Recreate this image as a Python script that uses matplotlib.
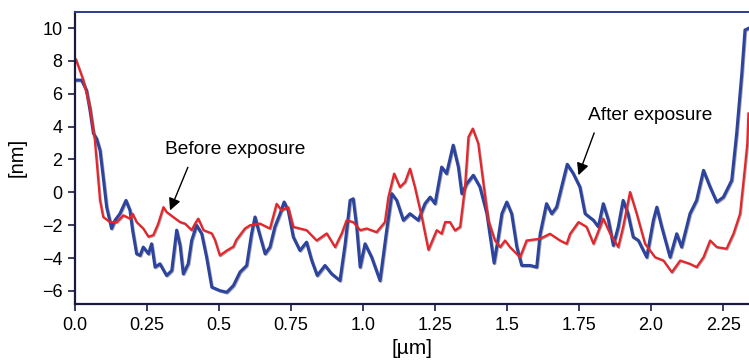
import numpy as np
import matplotlib
matplotlib.use('Agg')
import matplotlib.pyplot as plt
import matplotlib.patheffects as pe

plt.rcParams['font.family'] = ['Liberation Sans', 'DejaVu Sans']

# profile before exposure (red)
x_before = [0.003, 0.029, 0.052, 0.069, 0.087, 0.098, 0.122, 0.145, 0.168, 0.191,
            0.2, 0.214, 0.237, 0.255, 0.272, 0.289, 0.307, 0.318, 0.341, 0.365,
            0.382, 0.405, 0.417, 0.428, 0.446, 0.475, 0.486, 0.503, 0.527, 0.55,
            0.56, 0.59, 0.608, 0.642, 0.677, 0.70, 0.717, 0.74, 0.758, 0.804,
            0.839, 0.874, 0.903, 0.926, 0.943, 0.966, 0.99, 1.013, 1.047, 1.076,
            1.088, 1.108, 1.128, 1.146, 1.163, 1.18, 1.204, 1.227, 1.256, 1.273,
            1.285, 1.302, 1.319, 1.337, 1.354, 1.366, 1.381, 1.4, 1.418, 1.435,
            1.458, 1.476, 1.493, 1.51, 1.545, 1.568, 1.615, 1.649, 1.684, 1.707,
            1.719, 1.748, 1.776, 1.8, 1.834, 1.858, 1.886, 1.903, 1.927, 1.95,
            1.979, 2.014, 2.043, 2.072, 2.101, 2.135, 2.158, 2.182, 2.205, 2.228,
            2.262, 2.286, 2.309, 2.326, 2.334, 2.338]
y_before = [8.09, 6.83, 5.2, 3.17, -0.49, -1.5, -1.81, -1.81, -1.4, -1.6,
            -1.3, -1.81, -2.2, -2.7, -2.6, -1.9, -0.9, -1.2, -1.5, -1.81,
            -1.9, -2.3, -1.9, -1.6, -2.3, -2.5, -2.9, -3.84, -3.54, -3.3,
            -2.9, -2.2, -2.0, -1.9, -2.2, -0.7, -1.1, -0.9, -2.1, -2.3,
            -2.93, -2.5, -3.33, -2.5, -1.7, -1.81, -2.3, -2.2, -2.42, -1.81,
            -0.29, 1.14, 0.32, 0.63, 1.44, 0.32, -1.5, -3.5, -2.3, -2.52,
            -1.81, -1.81, -2.32, -2.1, 0.32, 3.37, 3.88, 2.97, 0.53, -1.7,
            -2.93, -3.33, -2.93, -3.33, -3.95, -2.93, -2.82, -2.52, -2.93, -3.13,
            -2.52, -1.81, -2.1, -3.13, -1.6, -2.52, -3.33, -2.1, 0.02, -1.3,
            -3.13, -3.95, -4.15, -4.86, -4.15, -4.35, -4.55, -3.95, -2.93, -3.33,
            -3.43, -2.52, -1.3, 1.54, 2.97, 4.8]

# profile after exposure (blue)
x_after = [0.003, 0.023, 0.04, 0.052, 0.064, 0.075, 0.087, 0.098, 0.11, 0.127,
           0.139, 0.156, 0.177, 0.191, 0.2, 0.214, 0.226, 0.237, 0.255, 0.266,
           0.278, 0.295, 0.318, 0.336, 0.353, 0.365, 0.376, 0.393, 0.405, 0.422,
           0.44, 0.457, 0.475, 0.503, 0.527, 0.55, 0.573, 0.596, 0.613, 0.625,
           0.637, 0.66, 0.677, 0.694, 0.712, 0.726, 0.74, 0.758, 0.781, 0.804,
           0.822, 0.841, 0.868, 0.891, 0.92, 0.938, 0.955, 0.966, 0.978, 0.99,
           1.007, 1.03, 1.059, 1.082, 1.1, 1.117, 1.14, 1.163, 1.192, 1.215,
           1.233, 1.25, 1.273, 1.29, 1.313, 1.331, 1.343, 1.36, 1.383, 1.406,
           1.43, 1.455, 1.47, 1.482, 1.499, 1.516, 1.534, 1.551, 1.58, 1.603,
           1.615, 1.637, 1.655, 1.672, 1.695, 1.709, 1.73, 1.753, 1.771, 1.8,
           1.817, 1.834, 1.852, 1.869, 1.886, 1.903, 1.92, 1.938, 1.956, 1.985,
           2.008, 2.02, 2.037, 2.066, 2.089, 2.106, 2.135, 2.158, 2.182, 2.205,
           2.228, 2.251, 2.28, 2.297, 2.315, 2.326, 2.338]
y_after = [6.83, 6.83, 6.2, 5.0, 3.58, 3.27, 2.56, 0.93, -0.9, -2.2,
           -1.7, -1.3, -0.49, -1.1, -2.3, -3.74, -3.84, -3.33, -3.74, -3.13,
           -4.55, -4.35, -5.06, -4.76, -2.3, -3.23, -4.96, -4.35, -2.93, -2.0,
           -2.52, -3.95, -5.77, -5.98, -6.08, -5.67, -4.85, -4.45, -2.52, -1.5,
           -2.3, -3.74, -3.33, -2.1, -1.3, -0.59, -1.1, -2.72, -3.54, -3.03,
           -4.15, -5.06, -4.45, -4.96, -5.37, -3.13, -0.49, -0.39, -2.1, -4.55,
           -3.13, -3.95, -5.37, -2.32, -0.08, -0.49, -1.7, -1.3, -1.7, -0.69,
           -0.29, -0.69, 1.54, 1.14, 2.87, 1.54, -0.08, 0.53, 1.04, 0.32,
           -1.3, -4.3, -2.7, -1.3, -0.59, -1.3, -3.33, -4.45, -4.45, -4.55,
           -2.52, -0.69, -1.3, -0.9, 0.73, 1.71, 1.14, 0.32, -1.3, -1.7,
           -2.1, -0.69, -1.7, -3.23, -2.1, -0.49, -1.3, -2.72, -2.93, -3.95,
           -1.7, -0.9, -2.1, -3.95, -2.52, -3.33, -1.3, -0.49, 1.34, 0.32,
           -0.59, -0.29, 0.73, 3.58, 7.24, 9.88, 9.98]

xticks = [0, 0.25, 0.5, 0.75, 1.0, 1.25, 1.5, 1.75, 2.0, 2.25]
xticklabels = ['0.0', '0.25', '0.5', '0.75', '1.0', '1.25', '1.5', '1.75', '2.0', '2.25']
yticks = [-6, -4, -2, 0, 2, 4, 6, 8, 10]

fig = plt.figure(figsize=(7.49, 3.62), dpi=100)
ax = fig.add_axes([0.1001, 0.160, 0.8999, 0.808])

shadow = [pe.SimpleLineShadow(offset=(0.6, -0.6), alpha=0.5, shadow_color='#555555'), pe.Normal()]
ax.plot(x_after, y_after, color='#2c44a0', lw=2.2, path_effects=shadow)
ax.plot(x_before, y_before, color='#e8242a', lw=1.6, path_effects=shadow)

ax.set_xlim(0, 2.34)
ax.set_ylim(-6.8, 11.0)
ax.set_xticks(xticks)
ax.set_xticklabels(xticklabels)
ax.set_yticks(yticks)
ax.tick_params(direction='out', length=5, width=1.2, labelsize=13, color='#1a1a40', pad=4)

for s in ['left', 'bottom']:
    ax.spines[s].set_color('#1a1a40')
    ax.spines[s].set_linewidth(1.6)
ax.spines['top'].set_color('#2b3a8c')
ax.spines['top'].set_linewidth(1.4)
ax.spines['right'].set_visible(False)

ax.set_xlabel('[µm]', fontsize=15, labelpad=4)
ax.set_ylabel('[nm]', fontsize=14.5, labelpad=11)

ax.annotate('Before exposure', xy=(0.33, -1.1), xytext=(0.3125, 2.6),
            fontsize=13.8, va='center', ha='left',
            arrowprops=dict(arrowstyle='-|>', color='black', lw=1,
                            mutation_scale=18, shrinkA=5, shrinkB=0,
                            relpos=(0.19, 0)))
ax.annotate('After exposure', xy=(1.748, 1.04), xytext=(1.78, 4.7),
            fontsize=13.8, va='center', ha='left',
            arrowprops=dict(arrowstyle='-|>', color='black', lw=1,
                            mutation_scale=18, shrinkA=5, shrinkB=0,
                            relpos=(0.08, 0)))

plt.savefig('out.png', dpi=100)
